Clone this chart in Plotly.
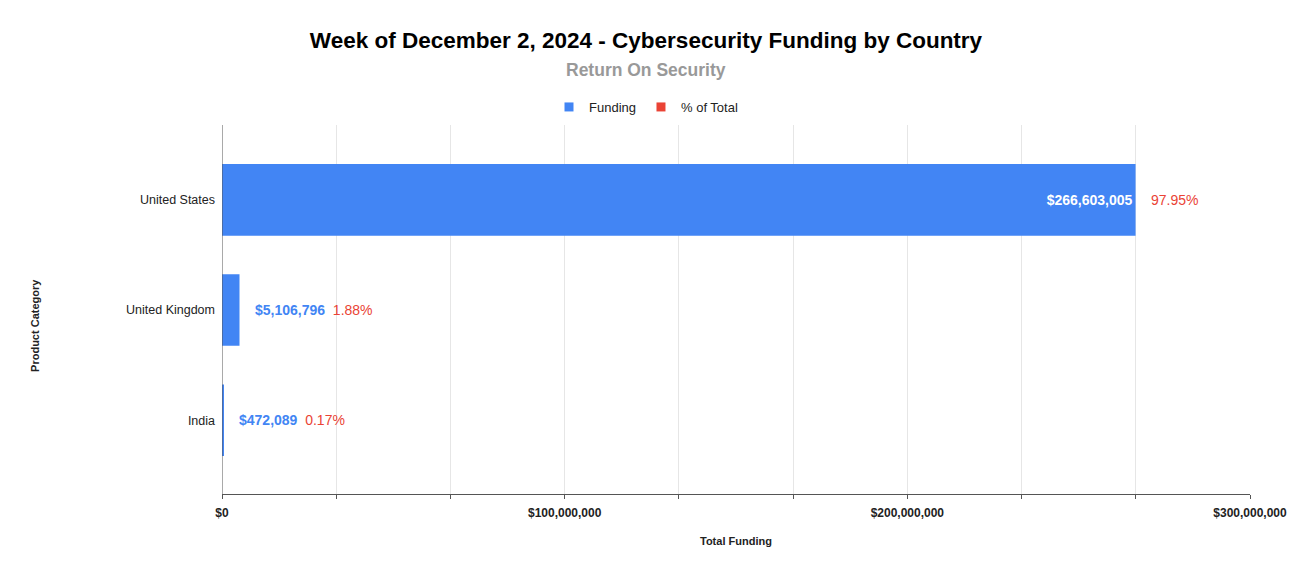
import plotly.graph_objects as go

## DATA (bottom row first)
countries = ["India", "United Kingdom", "United States"]
funding = [472089, 5106796, 266603005]
pct_total = [0.17, 1.88, 97.95]
funding_labels = ["$472,089", "$5,106,796", "$266,603,005"]
pct_labels = ["0.17%", "1.88%", "97.95%"]
tick_vals = [0, 100e6, 200e6, 300e6]
tick_text = ["$0", "$100,000,000", "$200,000,000", "$300,000,000"]

BLUE = "#4285F4"
RED = "#EA4335"
FONT = "Liberation Sans, Arial, sans-serif"

fig = go.Figure()

# big bar only gets the label inside
inside_txt = [lbl if v > 100e6 else "" for lbl, v in zip(funding_labels, funding)]
fig.add_trace(go.Bar(
    y=countries, x=funding, orientation="h", name="Funding",
    marker=dict(color=BLUE, line=dict(width=0)),
    text=inside_txt, textposition="inside", insidetextanchor="end",
    textfont=dict(color="white", size=14, family=FONT, weight="bold"),
    width=0.65, hoverinfo="skip", showlegend=False,
))

# legend entries (small squares like the original)
fig.add_trace(go.Scatter(x=[None], y=[None], mode="markers", name="Funding",
                         marker=dict(symbol="square", size=9, color=BLUE)))
fig.add_trace(go.Scatter(x=[None], y=[None], mode="markers", name="% of Total",
                         marker=dict(symbol="square", size=9, color=RED)))

# outside labels
for c, v, fl, pl in zip(countries, funding, funding_labels, pct_labels):
    if v > 100e6:
        txt = f"<span style='color:{RED}'>{pl}</span>"
    else:
        txt = (f"<span style='color:{BLUE}'><b>{fl}</b></span>"
               f"  <span style='color:{RED}'>{pl}</span>")
    fig.add_annotation(x=v, y=c, text=txt, showarrow=False, xanchor="left",
                       xshift=13, font=dict(size=14, family=FONT))

# subtitle (centred on the page, not the plot), axis titles
fig.add_annotation(x=(646 - 222) / 1028, xref="paper", y=1.149, yref="paper",
                   yanchor="middle", text="<b>Return On Security</b>", showarrow=False,
                   font=dict(size=17.5, color="#999999", family=FONT))
fig.add_annotation(x=-0.182, xref="paper", xanchor="center", y=0.458, yref="paper",
                   text="<b>Product Category</b>", textangle=-90, showarrow=False,
                   font=dict(size=11, color="#222222", family=FONT))
fig.add_annotation(x=0.5, xref="paper", y=-0.127, yref="paper", yanchor="middle",
                   text="<b>Total Funding</b>", showarrow=False,
                   font=dict(size=11, color="#222222", family=FONT))

fig.update_layout(
    width=1292, height=575,
    margin=dict(l=222, r=42, t=125, b=81, autoexpand=False),
    paper_bgcolor="white", plot_bgcolor="white",
    showlegend=True,
    title=dict(text="<b>Week of December 2, 2024 - Cybersecurity Funding by Country</b>",
               x=0.5, xanchor="center", y=1 - 40 / 575, yanchor="middle",
               font=dict(size=22.5, color="#000000", family=FONT)),
    legend=dict(orientation="h", x=0.5, xanchor="center", xref="container",
                y=1 - 107 / 575, yanchor="middle", yref="container",
                font=dict(size=13, color="#222222", family=FONT),
                itemwidth=30, traceorder="normal"),
    font=dict(family=FONT),
)

fig.update_xaxes(
    range=[0, 300e6], tickvals=tick_vals, ticktext=tick_text,
    showgrid=True, gridcolor="#E6E6E6", gridwidth=1,
    ticks="outside", ticklen=4, tickcolor="#555555",
    minor=dict(dtick=100e6 / 3, tick0=0, showgrid=True, gridcolor="#E6E6E6",
               ticks="outside", ticklen=4, tickcolor="#555555"),
    showline=True, linecolor="#555555", linewidth=1,
    zeroline=False, ticklabelstandoff=4, automargin=False,
    tickfont=dict(size=12, color="#222222", family=FONT, weight="bold"),
    fixedrange=True,
)
fig.update_yaxes(
    range=[-0.67, 2.68], showgrid=False, zeroline=False,
    showline=False, ticks="", ticklabelstandoff=6, automargin=False,
    tickfont=dict(size=12.5, color="#222222", family=FONT),
    fixedrange=True,
)
# vertical baseline at $0
fig.add_vline(x=0, line=dict(color="#555555", width=1))

# page body has an 8px default margin; drop it so the chart sits at 0,0
fig.write_html("out.html", config={"displayModeBar": False},
               post_script="document.body.style.margin='0';")
